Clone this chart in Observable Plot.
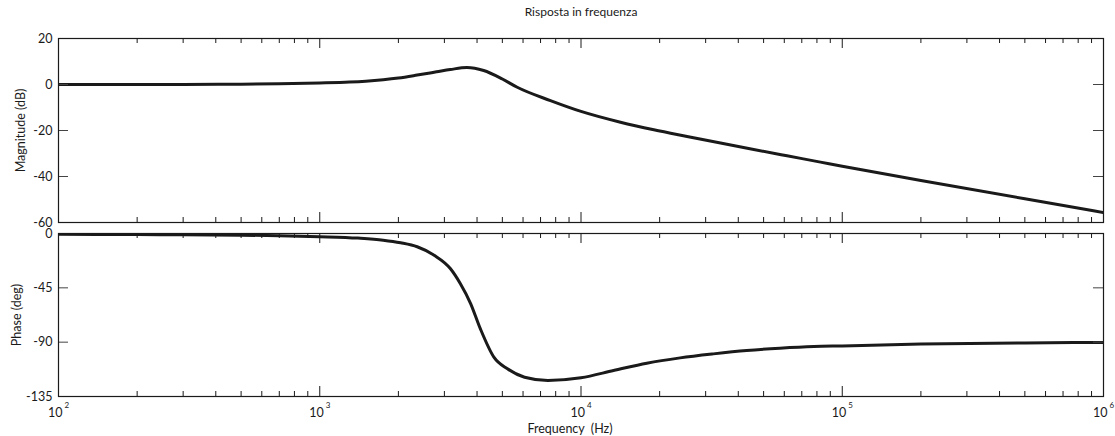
<!DOCTYPE html>
<html>
<head>
<meta charset="utf-8">
<script src="https://cdn.jsdelivr.net/npm/d3@7"></script>
<script src="https://cdn.jsdelivr.net/npm/@observablehq/plot@0.6"></script>
<style>
  html, body { margin: 0; padding: 0; background: #fff; }
  #chart { width: 1115px; height: 436px; background: #fff; }
  #chart svg { display: block; overflow: visible; }
</style>
</head>
<body>
<div id="chart"></div>
<script>
// ---- data ----
const magFreq = [100, 200, 300, 500, 700, 1000, 1300, 1500, 1750, 2000, 2360, 2800, 3160, 3660, 4240, 5000, 5700, 7640, 10000, 14160, 19000, 25470, 34200, 45830, 61460, 82560, 100000, 200000, 500000, 1000000];
const magDb   = [0, 0.02, 0.05, 0.15, 0.3, 0.65, 1.05, 1.45, 2.1, 2.85, 4.1, 5.5, 6.5, 7.4, 6.1, 2.4, -1.2, -7.0, -11.7, -16.4, -19.7, -22.6, -25.45, -28.25, -31.0, -33.75, -35.55, -41.7, -49.7, -55.7];

const phaseFreq = [100, 200, 300, 500, 700, 1000, 1400, 1750, 2040, 2360, 2740, 3160, 3450, 3780, 4120, 4640, 5230, 6080, 7470, 10000, 13320, 17860, 23950, 32100, 43070, 57700, 77900, 100000, 200000, 500000, 1000000];
const phaseDeg  = [-0.6, -0.9, -1.1, -1.4, -1.8, -2.6, -3.8, -5.5, -7.7, -11.0, -18.0, -29.0, -41.4, -58.0, -79.0, -102.4, -112.1, -119.0, -121.7, -119.5, -113.5, -107.4, -103.0, -99.7, -96.9, -95.0, -93.6, -93.1, -91.6, -90.6, -90.2];

const magTicks = [20, 0, -20, -40, -60];
const phaseTicks = [0, -45, -90, -135];
const decades = [100, 1000, 10000, 100000, 1000000];
const exponents = ["2", "3", "4", "5", "6"];
const minorMultipliers = [2, 3, 4, 5, 6, 7, 8, 9];

const titleText = "Risposta in frequenza";
const magLabel = "Magnitude (dB)";
const phaseLabel = "Phase (deg)";
const xLabel = "Frequency  (Hz)";

// ---- derived tables ----
const magData = magFreq.map((f, i) => ({f, v: magDb[i]}));
const phaseData = phaseFreq.map((f, i) => ({f, v: phaseDeg[i]}));
const minorTicks = decades.slice(0, -1).flatMap(d => minorMultipliers.map(m => d * m));

const W = 1115, ML = 58, MR = 12;
const PW = W - ML - MR;
const FONT = "Lato, 'Open Sans', sans-serif";
const FS = 12.5;
const ink = "#1a1a1a";
const fmt = d => String(d);

function frameTicks(panelH, yTicks) {
  const maj = 10, min = 5;
  return [
    Plot.tickX(decades, {x: d => d, stroke: ink, strokeWidth: 1, insetBottom: panelH - maj}),
    Plot.tickX(decades, {x: d => d, stroke: ink, strokeWidth: 1, insetTop: panelH - maj}),
    Plot.tickX(minorTicks, {x: d => d, stroke: ink, strokeWidth: 1, insetBottom: panelH - min}),
    Plot.tickX(minorTicks, {x: d => d, stroke: ink, strokeWidth: 1, insetTop: panelH - min}),
    Plot.tickY(yTicks, {y: d => d, stroke: "#444", strokeWidth: 1, insetRight: PW - maj}),
    Plot.tickY(yTicks, {y: d => d, stroke: "#444", strokeWidth: 1, insetLeft: PW - maj})
  ];
}

// ---- top panel: magnitude ----
const topH = 230, topMT = 38, topMB = 8;
const magPlot = Plot.plot({
  width: W, height: topH,
  marginTop: topMT, marginBottom: topMB, marginLeft: ML, marginRight: MR,
  style: {fontFamily: FONT, fontSize: FS + "px", color: ink, background: "transparent", overflow: "visible"},
  x: {type: "log", domain: [100, 1e6], axis: null},
  y: {domain: [-60, 20]},
  marks: [
    Plot.line(magData, {x: "f", y: "v", stroke: ink, strokeWidth: 3, curve: "monotone-x", clip: true}),
    ...frameTicks(topH - topMT - topMB, magTicks),
    Plot.frame({stroke: ink, strokeWidth: 1.2}),
    Plot.axisY(magTicks, {tickSize: 0, tickPadding: 6, label: null, fontSize: FS, fill: ink, tickFormat: fmt}),
    Plot.text([magLabel], {frameAnchor: "left", textAnchor: "middle", lineAnchor: "middle", dx: -38, rotate: -90, fontSize: FS, fill: ink}),
    Plot.text([titleText], {frameAnchor: "top", textAnchor: "middle", lineAnchor: "middle", dy: -26, fontSize: 12, fill: ink})
  ]
});

// ---- bottom panel: phase ----
const botH = 206, botMT = 3, botMB = 40;
const phasePlot = Plot.plot({
  width: W, height: botH,
  marginTop: botMT, marginBottom: botMB, marginLeft: ML, marginRight: MR,
  style: {fontFamily: FONT, fontSize: FS + "px", color: ink, background: "transparent", overflow: "visible"},
  x: {type: "log", domain: [100, 1e6], axis: null},
  y: {domain: [-135, 0]},
  marks: [
    Plot.line(phaseData, {x: "f", y: "v", stroke: ink, strokeWidth: 3, curve: "monotone-x", clip: true}),
    ...frameTicks(botH - botMT - botMB, phaseTicks),
    Plot.frame({stroke: ink, strokeWidth: 1.2}),
    Plot.axisY(phaseTicks, {tickSize: 0, tickPadding: 6, label: null, fontSize: FS, fill: ink, tickFormat: fmt}),
    Plot.text(decades, {x: d => d, text: d => "10", frameAnchor: "bottom", textAnchor: "end", lineAnchor: "middle", dx: 4, dy: 16, fontSize: FS, fill: ink}),
    Plot.text(decades, {x: d => d, text: (d, i) => exponents[i], frameAnchor: "bottom", textAnchor: "start", lineAnchor: "middle", dx: 6, dy: 9, fontSize: 8, fill: ink}),
    Plot.text([phaseLabel], {frameAnchor: "left", textAnchor: "middle", lineAnchor: "middle", dx: -42, rotate: -90, fontSize: FS, fill: ink}),
    Plot.text([xLabel], {frameAnchor: "bottom", textAnchor: "middle", lineAnchor: "middle", dx: -11, dy: 32, fontSize: FS, fill: ink})
  ]
});

const chart = document.getElementById("chart");
chart.appendChild(magPlot);
chart.appendChild(phasePlot);
</script>
</body>
</html>
